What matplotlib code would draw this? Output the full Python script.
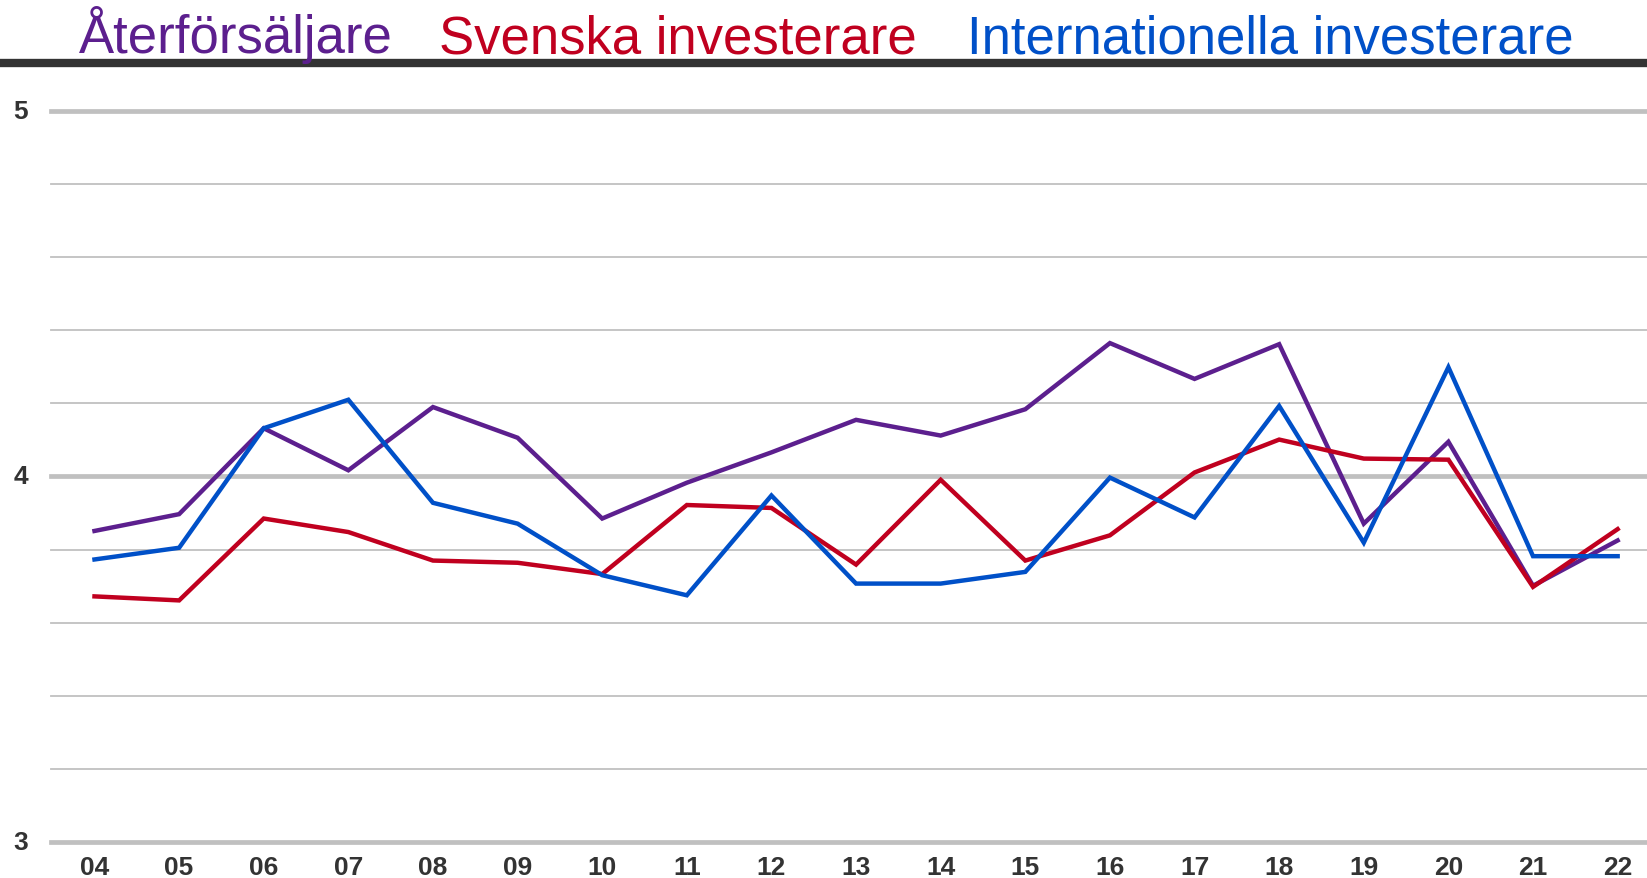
import numpy as np
import matplotlib.pyplot as plt
import matplotlib

matplotlib.rcParams['font.family'] = ['Liberation Sans', 'DejaVu Sans']

# år (x-axel)
years = ['04', '05', '06', '07', '08', '09', '10', '11', '12', '13',
         '14', '15', '16', '17', '18', '19', '20', '21', '22']

# serier
aterforsaljare = [3.851, 3.897, 4.132, 4.017, 4.190, 4.106, 3.885, 3.983, 4.066, 4.155,
                  4.112, 4.184, 4.365, 4.267, 4.362, 3.871, 4.095, 3.701, 3.825]
svenska = [3.672, 3.661, 3.885, 3.848, 3.770, 3.764, 3.733, 3.922, 3.914, 3.759,
           3.991, 3.770, 3.839, 4.011, 4.101, 4.049, 4.046, 3.698, 3.856]
internationella = [3.773, 3.805, 4.132, 4.210, 3.928, 3.871, 3.730, 3.675, 3.948, 3.707,
                   3.707, 3.739, 3.997, 3.888, 4.193, 3.819, 4.299, 3.782, 3.782]

series_names = ['Återförsäljare', 'Svenska investerare', 'Internationella investerare']
colors = ['#5c1f8e', '#c0001f', '#0050c8']

W, H = 1647, 879
fig = plt.figure(figsize=(W / 100, H / 100), dpi=100)

# axes: x 51..1647 px, y 112..843 px
ax = fig.add_axes([51 / W, 1 - 843 / H, 1 - 51 / W, (843 - 112) / H])
x = np.arange(len(years))

# rutnät
for yv in np.arange(3.0, 5.01, 0.2):
    major = abs(yv - round(yv)) < 1e-6
    ax.axhline(yv, color='#c0c0c0', linewidth=3.4 if major else 1.3,
               zorder=1, clip_on=False)

for vals, col in zip([aterforsaljare, svenska, internationella], colors):
    ax.plot(x, vals, color=col, linewidth=3.2, solid_joinstyle='miter', zorder=3)

ax.set_xlim(-0.514, 18.347)
ax.set_ylim(3, 5)
for s in ax.spines.values():
    s.set_visible(False)
ax.set_xticks([])
ax.set_yticks([])

# y-etiketter
for yv in [3, 4, 5]:
    fig.text(21 / W, ax.transData.transform((0, yv))[1] / H, str(yv),
             ha='center', va='center', fontsize=19, fontweight='bold', color='#333333')

# x-etiketter
for i, lab in enumerate(years):
    fig.text(ax.transData.transform((i, 3))[0] / W, 1 - 868 / H, lab,
             ha='center', va='center', fontsize=19, fontweight='bold', color='#333333')

# titel / förklaring
title_x = [79, 439, 967]
for name, col, tx in zip(series_names, colors, title_x):
    fig.text(tx / W, 1 - 53 / H, name, ha='left', va='baseline',
             fontsize=38, color=col)

# mörk linje under titeln
fig.add_artist(plt.Line2D([0, 1], [1 - 64 / H, 1 - 64 / H],
                          transform=fig.transFigure, color='#333333', linewidth=6))

fig.savefig('out.png', dpi=100)
